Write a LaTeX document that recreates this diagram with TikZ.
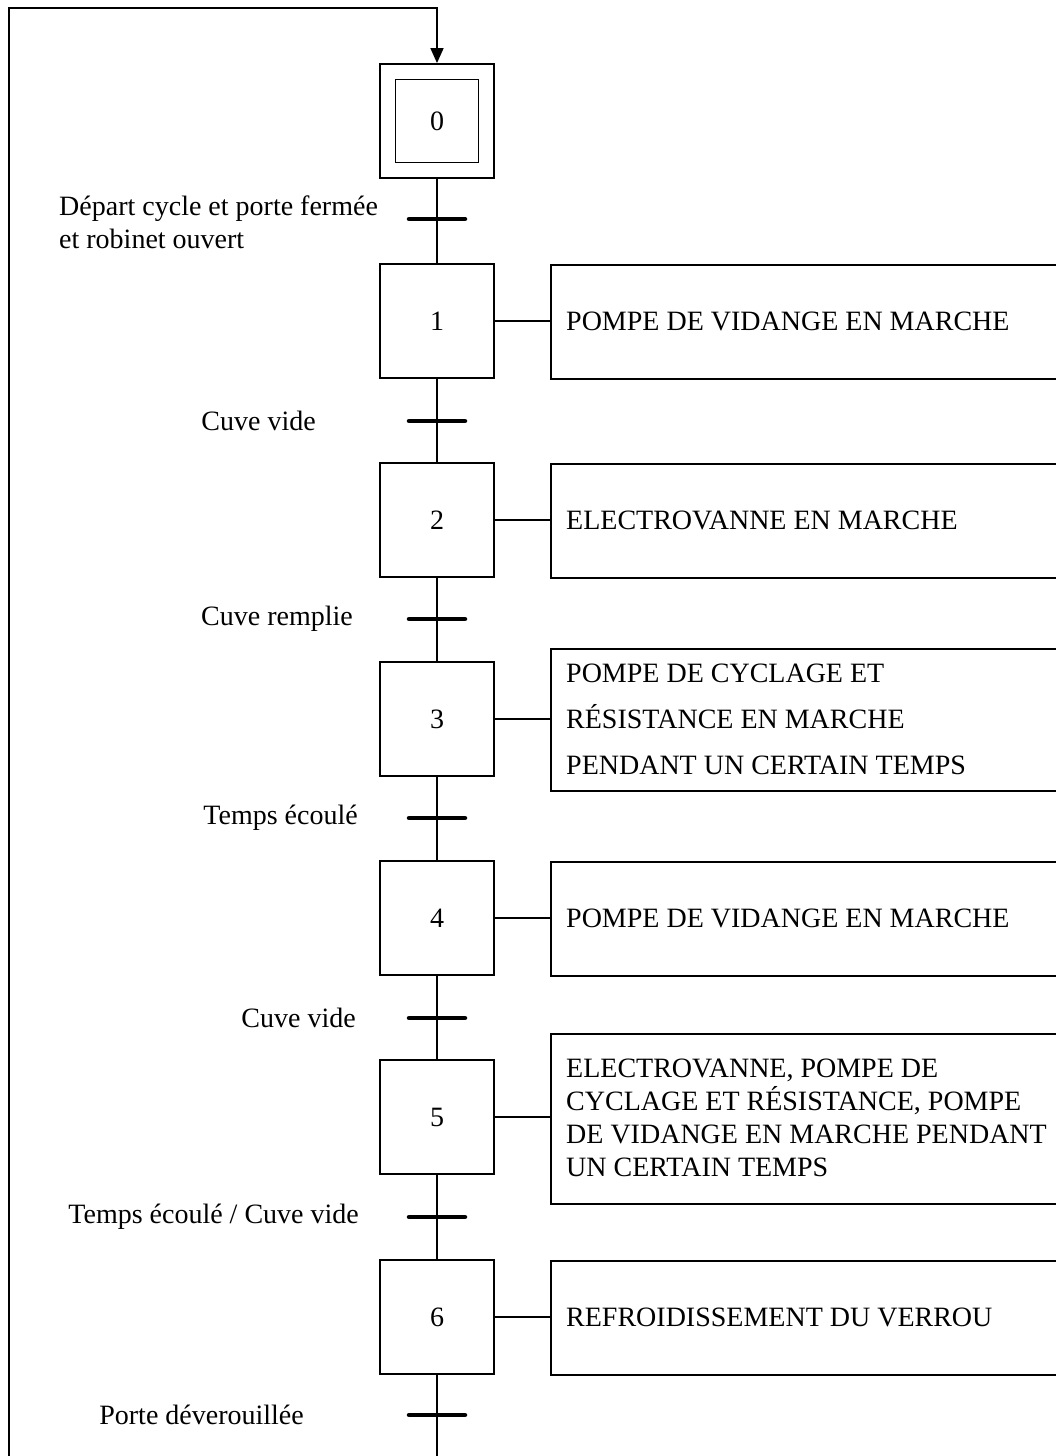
\documentclass[tikz,border=0pt]{standalone}
\usepackage{fontspec}
\setmainfont{Liberation Serif}
\usetikzlibrary{arrows.meta}

\begin{document}
\begin{tikzpicture}[x=1pt,y=-1pt,
  every node/.style={font=\fontsize{28}{33}\selectfont, text=black},
  stepbox/.style={draw, line width=1.8pt, minimum width=114pt, minimum height=114pt, inner sep=0pt},
  initbox/.style={draw, line width=1.8pt, minimum width=83pt, minimum height=83pt, inner sep=0pt},
  actbox/.style={draw, line width=1.8pt, anchor=north west, minimum width=560pt, inner sep=0pt},
  acttext/.style={anchor=west, align=left, inner sep=0pt},
  cond/.style={anchor=east, align=left, inner sep=0pt},
  link/.style={line width=1.6pt},
  bar/.style={line width=4.5pt, line cap=round}]

\useasboundingbox (0,0) rectangle (1056,1456);
\clip (0,0) rectangle (1056,1456);

% steps
\node[stepbox] (s0) at (437,121) {};
\node[initbox] (s0in) at (437,121) {0};
\node[stepbox] (s1) at (437,321) {1};
\node[stepbox] (s2) at (437,520) {2};
\node[stepbox] (s3) at (437,719) {3};
\node[stepbox] (s4) at (437,918) {4};
\node[stepbox] (s5) at (437,1117) {5};
\node[stepbox] (s6) at (437,1317) {6};

% transitions
\coordinate (t0) at (437,219);
\coordinate (t1) at (437,421);
\coordinate (t2) at (437,619);
\coordinate (t3) at (437,818);
\coordinate (t4) at (437,1018);
\coordinate (t5) at (437,1217);
\coordinate (t6) at (437,1415);
\coordinate (bot) at (437,1475);
\coordinate (loopbl) at (9,1475);
\coordinate (looptl) at (9,8);
\coordinate (looptr) at (437,8);

% spine and return loop
\draw[link] (s0.south) -- (s1.north);
\draw[link] (s1.south) -- (s2.north);
\draw[link] (s2.south) -- (s3.north);
\draw[link] (s3.south) -- (s4.north);
\draw[link] (s4.south) -- (s5.north);
\draw[link] (s5.south) -- (s6.north);
\draw[link,-{Triangle[length=15pt,width=13pt]}] (s6.south) -- (bot) -- (loopbl) -- (looptl) -- (looptr) -- (s0.north);

\foreach \t in {t0,t1,t2,t3,t4,t5,t6}
  \draw[bar] ([xshift=-28pt]\t) -- ([xshift=28pt]\t);

% action boxes
\node[actbox, minimum height=114pt] (a1) at (550,264) {};
\node[actbox, minimum height=114pt] (a2) at (550,463) {};
\node[actbox, minimum height=142pt] (a3) at (550,648) {};
\node[actbox, minimum height=114pt] (a4) at (550,861) {};
\node[actbox, minimum height=170pt] (a5) at (550,1033) {};
\node[actbox, minimum height=114pt] (a6) at (550,1260) {};

\draw[link] (s1.east) -- (s1.east -| a1.west);
\draw[link] (s2.east) -- (s2.east -| a2.west);
\draw[link] (s3.east) -- (s3.east -| a3.west);
\draw[link] (s4.east) -- (s4.east -| a4.west);
\draw[link] (s5.east) -- (s5.east -| a5.west);
\draw[link] (s6.east) -- (s6.east -| a6.west);

\node[acttext] (x1) at (566,321) {POMPE DE VIDANGE EN MARCHE};
\node[acttext] (x2) at (566,520) {ELECTROVANNE EN MARCHE};
\node[acttext] (x3) at (566,719) {POMPE DE CYCLAGE ET\\[13pt]RÉSISTANCE EN MARCHE\\[13pt]PENDANT UN CERTAIN TEMPS};
\node[acttext] (x4) at (566,918) {POMPE DE VIDANGE EN MARCHE};
\node[acttext] (x5) at (566,1118) {ELECTROVANNE, POMPE DE\\CYCLAGE ET RÉSISTANCE, POMPE\\DE VIDANGE EN MARCHE PENDANT\\UN CERTAIN TEMPS};
\node[acttext] (x6) at (566,1317) {REFROIDISSEMENT DU VERROU};

% receptivities
\node[anchor=west, align=left, inner sep=0pt] (c0) at (59,222) {Départ cycle et porte fermée\\et robinet ouvert};
\node[cond] (c1) at (316,421) {Cuve vide};
\node[cond] (c2) at (353,619) {Cuve remplie};
\node[cond] (c3) at (358,818) {Temps écoulé};
\node[cond] (c4) at (356,1018) {Cuve vide};
\node[cond] (c5) at (359,1217) {Temps écoulé / Cuve vide};
\node[cond] (c6) at (304,1415) {Porte déverouillée};
\end{tikzpicture}
\end{document}
